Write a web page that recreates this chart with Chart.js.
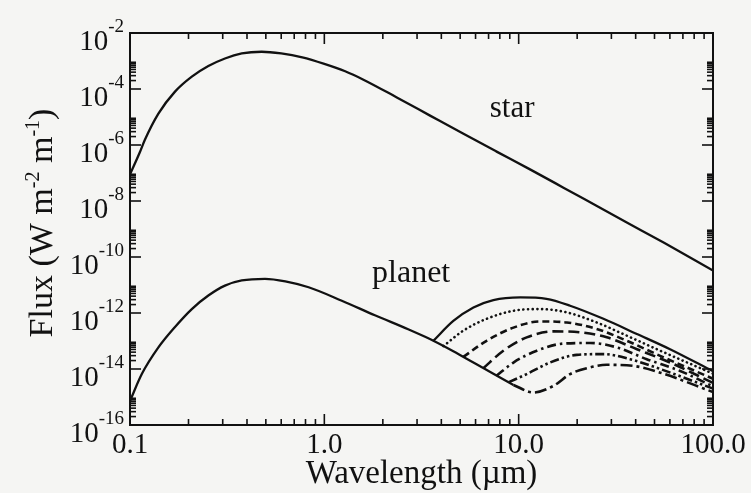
<!DOCTYPE html>
<html>
<head>
<meta charset="utf-8">
<script src="https://cdn.jsdelivr.net/npm/chart.js@4.4.0/dist/chart.umd.min.js"></script>
<style>
  html, body { margin: 0; padding: 0; background: #f5f5f3; }
  #wrap { width: 751px; height: 493px; }
</style>
</head>
<body>
<div id="wrap"><canvas id="fluxChart" width="751" height="493"></canvas></div>
<script>
// wavelengths in micron, flux in W m^-2 m^-1
const starWavelength = [0.1, 0.1125, 0.119, 0.14, 0.17, 0.208, 0.253, 0.308, 0.376, 0.476, 0.6, 0.77, 1.0, 1.28, 1.58, 2.36, 3.5, 5.2, 7.7, 11.5, 17, 25, 37, 56, 100];
const starFlux = [8.9e-8, 5.6e-7, 1.48e-6, 1.32e-5, 7.9e-5, 2.75e-4, 6.6e-4, 1.23e-3, 1.86e-3, 2.14e-3, 1.86e-3, 1.35e-3, 7.9e-4, 4.3e-4, 2.2e-4, 5.0e-5, 1.12e-5, 2.5e-6, 5.8e-7, 1.32e-7, 3.0e-8, 6.9e-9, 1.55e-9, 3.2e-10, 3.3e-11];

const planetWavelength = [0.1, 0.115, 0.14, 0.17, 0.208, 0.253, 0.308, 0.376, 0.495, 0.63, 0.83, 1.23, 1.82, 2.7, 3.3, 3.64, 4.61, 5.85, 7.41, 9.4];
const planetFlux = [7.2e-16, 6.6e-15, 5.9e-14, 3.1e-13, 1.38e-12, 4.2e-12, 9.5e-12, 1.45e-11, 1.66e-11, 1.35e-11, 8.3e-12, 2.75e-12, 8.3e-13, 2.63e-13, 1.41e-13, 1.02e-13, 4.3e-14, 1.7e-14, 6.8e-15, 2.7e-15];

// planet curves with thermal emission, warmest first
const thermalAWavelength = [3.64, 4.61, 5.85, 7.41, 10.2, 13.9, 18.4, 27.3, 40.6, 60.1, 100];
const thermalAFlux = [1.02e-13, 5.2e-13, 1.58e-12, 2.9e-12, 3.6e-12, 3.2e-12, 1.82e-12, 6.2e-13, 1.78e-13, 5.1e-14, 8.3e-15];
const thermalBWavelength = [4.1, 5.19, 6.84, 9.4, 12.9, 17.7, 25.2, 36, 53.5, 100];
const thermalBFlux = [6.6e-14, 2.34e-13, 6.2e-13, 1.2e-12, 1.38e-12, 1.05e-12, 4.6e-13, 1.55e-13, 4.5e-14, 6.8e-15];
const thermalCWavelength = [5.19, 6.84, 9.4, 12.9, 17.7, 25.2, 36, 53.5, 100];
const thermalCFlux = [2.7e-14, 1.02e-13, 3.0e-13, 5.0e-13, 4.6e-13, 2.7e-13, 1.02e-13, 2.95e-14, 4.5e-15];
const thermalDWavelength = [6.58, 8.34, 11.0, 15.1, 20.7, 28.4, 40.6, 60.1, 100];
const thermalDFlux = [1.07e-14, 4.5e-14, 1.35e-13, 2.2e-13, 2.04e-13, 1.35e-13, 5.1e-14, 1.7e-14, 3.2e-15];
const thermalEWavelength = [7.71, 9.4, 12.4, 17.0, 23.3, 32, 45.6, 67.8, 100];
const thermalEFlux = [5.8e-15, 1.7e-14, 4.5e-14, 8.1e-14, 8.5e-14, 5.9e-14, 2.24e-14, 8.5e-15, 2.4e-15];
const thermalFWavelength = [8.9, 11.0, 14.5, 19.9, 27.3, 37.4, 53.5, 100];
const thermalFFlux = [3.4e-15, 6.6e-15, 1.7e-14, 3.2e-14, 3.4e-14, 2.24e-14, 1.0e-14, 2.0e-15];
const thermalGWavelength = [9.4, 11.9, 15.1, 18.4, 22.4, 28.4, 38.9, 53.5, 100];
const thermalGFlux = [2.7e-15, 1.45e-15, 2.5e-15, 6.6e-15, 1.07e-14, 1.41e-14, 1.29e-14, 7.4e-15, 1.5e-15];

// axis ticks
const xMajorTicks = [0.1, 1, 10, 100];
const xTickLabels = ['0.1', '1.0', '10.0', '100.0'];
const yTickExponents = [-2, -4, -6, -8, -10, -12, -14, -16];

const SERIF = '"Liberation Serif", "DejaVu Serif", serif';
const INK = '#111';

function pairUp(xs, ys) {
    return xs.map((x, i) => ({ x: x, y: ys[i] }));
}

function curve(xs, ys, dash, cap) {
    return {
        data: pairUp(xs, ys),
        borderColor: INK,
        borderWidth: dash.length ? 2.6 : 2.3,
        borderDash: dash,
        borderCapStyle: cap || 'butt',
        pointRadius: 0,
        fill: false,
        cubicInterpolationMode: 'monotone'
    };
}

const axesPlugin = {
    id: 'axesPlugin',
    afterDatasetsDraw(chart) {
        const { ctx, chartArea: a, scales: { x, y } } = chart;
        ctx.save();
        ctx.strokeStyle = INK;
        ctx.fillStyle = INK;

        // frame
        ctx.lineWidth = 2;
        ctx.strokeRect(a.left, a.top, a.right - a.left, a.bottom - a.top);

        const seg = (x1, y1, x2, y2) => {
            ctx.beginPath();
            ctx.moveTo(x1, y1);
            ctx.lineTo(x2, y2);
            ctx.stroke();
        };

        // x ticks, bottom and top, pointing inward
        ctx.lineWidth = 1.6;
        xMajorTicks.forEach((v, i) => {
            const px = x.getPixelForValue(v);
            seg(px, a.bottom, px, a.bottom - 11);
            seg(px, a.top, px, a.top + 11);
            if (i < xMajorTicks.length - 1) {
                for (let k = 2; k <= 9; k++) {
                    const mx = x.getPixelForValue(v * k);
                    seg(mx, a.bottom, mx, a.bottom - 6);
                    seg(mx, a.top, mx, a.top + 6);
                }
            }
        });

        // y ticks, left and right
        yTickExponents.forEach(e => {
            const py = y.getPixelForValue(Math.pow(10, e));
            seg(a.left, py, a.left + 11, py);
            seg(a.right, py, a.right - 11, py);
            if (e < -2) {
                for (let k = 2; k <= 9; k++) {
                    const my = y.getPixelForValue(k * Math.pow(10, e));
                    seg(a.left, my, a.left + 6, my);
                    seg(a.right, my, a.right - 6, my);
                }
            }
        });

        // x tick labels
        ctx.font = '29px ' + SERIF;
        ctx.textAlign = 'center';
        ctx.textBaseline = 'alphabetic';
        xMajorTicks.forEach((v, i) => {
            ctx.fillText(xTickLabels[i], x.getPixelForValue(v), a.bottom + 28);
        });

        // y tick labels: 10 with superscript exponent
        yTickExponents.forEach(e => {
            const py = y.getPixelForValue(Math.pow(10, e));
            const sup = String(e);
            ctx.font = '19px ' + SERIF;
            const supW = ctx.measureText(sup).width;
            ctx.textAlign = 'right';
            const supRight = a.left - 6;
            ctx.fillText(sup, supRight, py - 1);
            ctx.font = '29px ' + SERIF;
            ctx.fillText('10', supRight - supW, py + 17);
        });

        // x axis title
        ctx.font = '33px ' + SERIF;
        ctx.textAlign = 'center';
        ctx.fillText('Wavelength (\u00b5m)', (a.left + a.right) / 2, 483);

        // y axis title, rotated, with superscripts
        const parts = [
            ['Flux (W m', false], ['-2', true], [' m', false], ['-1', true], [')', false]
        ];
        const big = '34px ' + SERIF, small = '20px ' + SERIF;
        let total = 0;
        parts.forEach(p => { ctx.font = p[1] ? small : big; total += ctx.measureText(p[0]).width; });
        ctx.translate(52, (a.top + a.bottom) / 2 - 6);
        ctx.rotate(-Math.PI / 2);
        ctx.textAlign = 'left';
        let cx = -total / 2;
        parts.forEach(p => {
            ctx.font = p[1] ? small : big;
            ctx.fillText(p[0], cx, p[1] ? -13 : 0);
            cx += ctx.measureText(p[0]).width;
        });
        ctx.setTransform(1, 0, 0, 1, 0, 0);

        // curve labels
        ctx.font = '31px ' + SERIF;
        ctx.textAlign = 'left';
        ctx.fillText('star', x.getPixelForValue(7.1), y.getPixelForValue(1e-5));
        ctx.font = '32px ' + SERIF;
        ctx.fillText('planet', x.getPixelForValue(1.76), y.getPixelForValue(1.3e-11));
        ctx.restore();
    }
};

new Chart(document.getElementById('fluxChart').getContext('2d'), {
    type: 'line',
    data: {
        datasets: [
            curve(starWavelength, starFlux, []),
            curve(planetWavelength, planetFlux, []),
            curve(thermalAWavelength, thermalAFlux, []),
            curve(thermalBWavelength, thermalBFlux, [0.1, 4.6], 'round'),
            curve(thermalCWavelength, thermalCFlux, [7, 4]),
            curve(thermalDWavelength, thermalDFlux, [11, 5]),
            curve(thermalEWavelength, thermalEFlux, [9, 4, 2.5, 4]),
            curve(thermalFWavelength, thermalFFlux, [9, 3, 2.5, 3, 2.5, 3]),
            curve(thermalGWavelength, thermalGFlux, [12, 4, 3, 4])
        ]
    },
    options: {
        responsive: false,
        animation: false,
        layout: { padding: { left: 130, top: 33, right: 38, bottom: 68 } },
        plugins: {
            legend: { display: false },
            tooltip: { enabled: false }
        },
        scales: {
            x: { type: 'logarithmic', min: 0.1, max: 100, display: false },
            y: { type: 'logarithmic', min: 1e-16, max: 1e-2, display: false }
        }
    },
    plugins: [axesPlugin]
});
</script>
</body>
</html>
